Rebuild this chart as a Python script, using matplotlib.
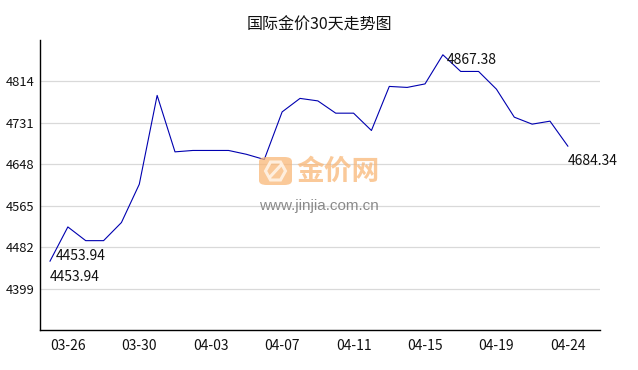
import numpy as np
import matplotlib
matplotlib.use("Agg")
import matplotlib.pyplot as plt
from matplotlib.patches import FancyBboxPatch, Polygon

plt.rcParams['font.family'] = ['Noto Sans CJK SC', 'DejaVu Sans']

# ---- data ----
dates = ["03-25", "03-26", "03-27", "03-28", "03-29", "03-30", "03-31",
         "04-01", "04-02", "04-03", "04-04", "04-05", "04-06", "04-07",
         "04-08", "04-09", "04-10", "04-11", "04-12", "04-13", "04-14",
         "04-15", "04-16", "04-17", "04-18", "04-19", "04-20", "04-21",
         "04-22", "04-24"]
prices = [4453.94, 4522.5, 4495.0, 4495.0, 4531.3, 4608.0, 4786.0,
          4672.9, 4675.7, 4675.7, 4675.7, 4668.0, 4657.6, 4753.0,
          4780.0, 4775.0, 4750.4, 4750.4, 4715.7, 4804.0, 4802.0,
          4809.0, 4867.38, 4834.0, 4834.0, 4798.5, 4742.4, 4728.4,
          4734.4, 4684.34]
yticks = [4399, 4482, 4565, 4648, 4731, 4814]
title = "国际金价30天走势图"

fig = plt.figure(figsize=(6.38, 3.70), dpi=100)
ax = fig.add_axes([40/638, 1-330/370, 560/638, 290/370])

x = np.arange(len(prices))
ax.plot(x, prices, color='#0000b0', lw=0.8, zorder=3)

ax.set_ylim(4316, 4897)
ax.set_xlim(-0.56, 30.8)
ax.set_yticks(yticks)
ax.set_yticklabels([str(v) for v in yticks])
tick_idx = list(range(1, len(dates), 4))
ax.set_xticks(tick_idx)
ax.set_xticklabels([dates[i] for i in tick_idx])
ax.tick_params(axis='both', length=0, colors='#111111')
ax.tick_params(axis='y', pad=4, labelsize=9.3)
ax.tick_params(axis='x', pad=6.5, labelsize=10)
ax.yaxis.grid(True, color='#d9d9d9', lw=0.9)
ax.set_axisbelow(True)
for s in ['top', 'right']:
    ax.spines[s].set_visible(False)
for s in ['left', 'bottom']:
    ax.spines[s].set_linewidth(1.0)
    ax.spines[s].set_color('#000000')

# value labels
imin = int(np.argmin(prices))
imax = int(np.argmax(prices))
ilast = len(prices) - 1
lab = dict(fontsize=10, color='#111111', va='center', ha='left',
           textcoords='offset points')
ax.annotate(f"{prices[imin]:.2f}", (x[imin], prices[imin]), xytext=(4, 3.6), **lab)
ax.annotate(f"{prices[0]:.2f}", (x[0], prices[0]), xytext=(0, -11.5), **lab)
ax.annotate(f"{prices[imax]:.2f}", (x[imax], prices[imax]), xytext=(3, -3.6), **lab)
ax.annotate(f"{prices[ilast]:.2f}", (x[ilast], prices[ilast]), xytext=(0, -11), **lab)

fig.text(0.5, 1-25/370, title, ha='center', va='center', fontsize=11.5, color='#111111')

# watermark
lx0, ly0, lw_, lh_ = 259/638, 1-185/370, 33/638, 28/370
fig.patches.append(FancyBboxPatch((lx0, ly0), lw_, lh_,
                                  boxstyle="round,pad=0,rounding_size=0.012",
                                  transform=fig.transFigure, fc='#f9b777',
                                  ec='none', alpha=0.75, zorder=5))
cx, cy = lx0 + lw_/2, ly0 + lh_/2
hx, hy = 10/638, 9/370
hexa = [(cx - hx, cy), (cx - hx/2, cy + hy), (cx + hx/2, cy + hy),
        (cx + hx, cy), (cx + hx/2, cy - hy), (cx - hx/2, cy - hy)]
fig.patches.append(Polygon(hexa, closed=True, transform=fig.transFigure,
                           fc='none', ec='#fff3e6', lw=2.2, alpha=0.9, zorder=6))
fig.lines.append(plt.Line2D([cx - hx/2, cx + hx/2], [cy - hy*0.6, cy + hy*0.6],
                            transform=fig.transFigure, color='#fff3e6', lw=2.2,
                            alpha=0.9, zorder=6))
fig.text(296/638, 1-172/370, "金价网", ha='left', va='center', fontsize=20,
         color='#f9b777', alpha=0.75, fontweight='bold', zorder=5)
fig.text(319/638, 1-206/370, "www.jinjia.com.cn", ha='center', va='center',
         fontsize=11, color='#777777', alpha=0.85, zorder=5,
         family=['Liberation Sans', 'DejaVu Sans'])

fig.savefig("out.png", dpi=100)
